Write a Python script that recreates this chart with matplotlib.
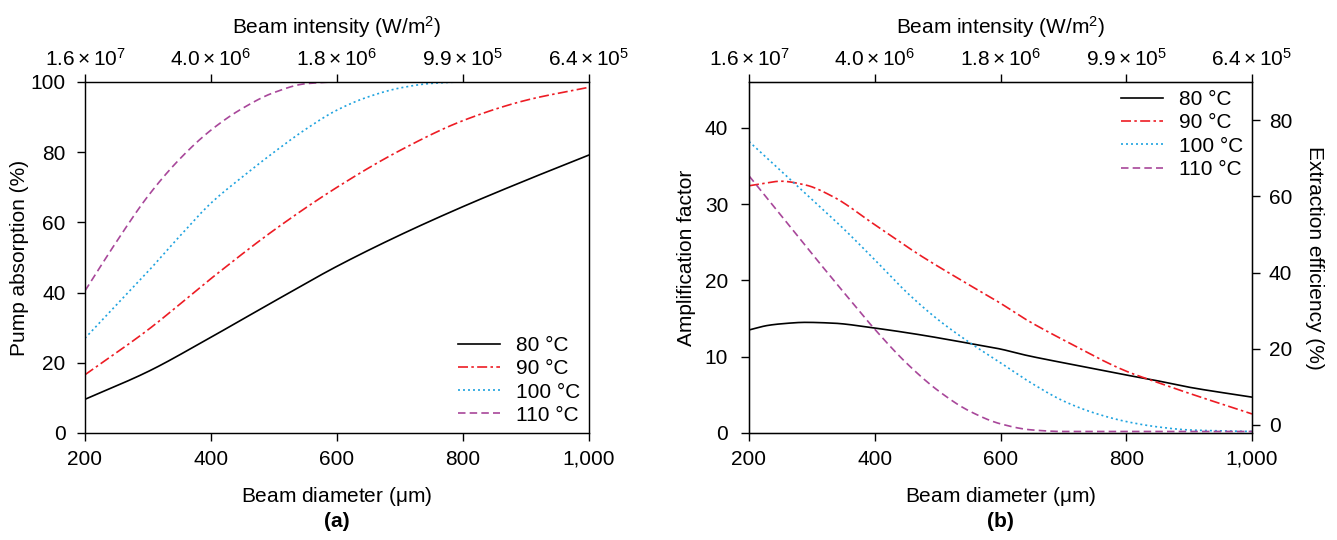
import numpy as np
import matplotlib
matplotlib.use('Agg')
import matplotlib.pyplot as plt

plt.rcParams['font.family'] = ['Liberation Sans', 'DejaVu Sans']
plt.rcParams['mathtext.fontset'] = 'custom'
plt.rcParams['mathtext.rm'] = 'Liberation Sans'
plt.rcParams['mathtext.it'] = 'Liberation Sans'
plt.rcParams['mathtext.default'] = 'regular'
plt.rcParams['font.size'] = 15

# panel (a): pump absorption (%)
d_a = [200, 300, 400, 500, 600, 700, 800, 900, 1000]
abs80 = [9.6, 17.5, 27.3, 37.5, 47.5, 56.4, 64.5, 72.0, 79.2]
abs90 = [16.6, 29.4, 44.0, 57.8, 70.0, 80.5, 89.0, 94.8, 98.5]
d_a100 = [200, 250, 300, 350, 400, 450, 500, 550, 600, 650, 700, 750, 800, 1000]
abs100 = [27.0, 36.5, 46.0, 56.0, 65.5, 73.0, 80.0, 86.5, 92.0, 95.8, 98.3, 99.6, 100, 100]
d_a110 = [200, 250, 300, 350, 400, 450, 500, 550, 600, 1000]
abs110 = [40.5, 54.5, 67.5, 78.0, 86.3, 92.5, 97.0, 99.5, 100, 100]

# panel (b): amplification factor
d_b = [200, 230, 250, 290, 333, 400, 470, 540, 600, 640, 700, 800, 840, 900, 1000]
amp80 = [13.5, 14.1, 14.3, 14.5, 14.4, 13.75, 12.9, 11.9, 11.0, 10.2, 9.2, 7.6, 7.0, 6.0, 4.7]
amp90 = [32.4, 32.8, 33.0, 32.5, 31.0, 27.3, 23.4, 19.9, 17.0, 14.9, 12.2, 8.1, 6.9, 5.2, 2.5]
d_b2 = [200, 250, 300, 350, 400, 450, 500, 550, 600, 650, 700, 750, 800, 850, 900, 1000]
amp100 = [38.2, 34.4, 30.6, 26.8, 22.7, 18.5, 14.9, 11.9, 9.2, 6.5, 4.2, 2.6, 1.5, 0.8, 0.4, 0.2]
d_b3 = [200, 250, 300, 350, 400, 450, 500, 550, 600, 650, 700, 1000]
amp110 = [33.7, 28.6, 23.5, 18.5, 13.6, 9.2, 5.6, 2.9, 1.2, 0.4, 0.2, 0.2]

top_ticks = [200, 400, 600, 800, 1000]
top_labels = [r'$1.6\times10^{7}$', r'$4.0\times10^{6}$', r'$1.8\times10^{6}$',
              r'$9.9\times10^{5}$', r'$6.4\times10^{5}$']
bot_labels = ['200', '400', '600', '800', '1,000']

red = '#ed1c24'
blue = '#1fa3df'
purple = '#a8479a'
lw = 1.2
ls90 = (0, (6, 2, 1.5, 2))
ls100 = (0, (1.2, 1.8))
ls110 = (0, (4.5, 2.5))


def pchip(x, y, n=400):
    x = np.asarray(x, float); y = np.asarray(y, float)
    h = np.diff(x); delta = np.diff(y) / h
    m = np.zeros_like(y)
    for k in range(1, len(x) - 1):
        if delta[k - 1] * delta[k] > 0:
            w1 = 2 * h[k] + h[k - 1]; w2 = h[k] + 2 * h[k - 1]
            m[k] = (w1 + w2) / (w1 / delta[k - 1] + w2 / delta[k])
    m[0] = delta[0]; m[-1] = delta[-1]
    xs = np.linspace(x[0], x[-1], n)
    idx = np.clip(np.searchsorted(x, xs) - 1, 0, len(x) - 2)
    t = (xs - x[idx]) / h[idx]
    h00 = 2 * t**3 - 3 * t**2 + 1; h10 = t**3 - 2 * t**2 + t
    h01 = -2 * t**3 + 3 * t**2; h11 = t**3 - t**2
    ys = h00 * y[idx] + h10 * h[idx] * m[idx] + h01 * y[idx + 1] + h11 * h[idx] * m[idx + 1]
    return xs, ys


def style_axes(ax, ypad):
    ax.set_xlim(200, 1000)
    ax.set_xticks(top_ticks)
    ax.set_xticklabels(bot_labels)
    ax.tick_params(axis='x', direction='out', length=6, width=1, pad=6)
    ax.tick_params(axis='y', direction='out', length=6, width=1, pad=ypad)
    for s in ax.spines.values():
        s.set_linewidth(1.0)
        s.set_color('#222222')
    ax.set_xlabel('Beam diameter ($\\mu$m)', labelpad=12)
    top = ax.twiny()
    top.set_xlim(200, 1000)
    top.set_xticks(top_ticks)
    top.set_xticklabels(top_labels)
    top.tick_params(direction='out', length=6, width=1, pad=3)
    top.set_xlabel('Beam intensity (W/m$^{2}$)', labelpad=10)
    return top


leg_kw = dict(frameon=False, fontsize=15, handlelength=2.0, labelspacing=0.2,
              borderaxespad=0.0, handletextpad=0.8)

fig = plt.figure(figsize=(13.37, 5.40), dpi=100)

# ---- (a)
ax1 = fig.add_axes([85 / 1337, 107 / 540, 504 / 1337, 351 / 540])
ax1.plot(*pchip(d_a, abs80), color='black', lw=lw, label='80 °C')
ax1.plot(*pchip(d_a, abs90), color=red, lw=lw, ls=ls90, label='90 °C')
ax1.plot(*pchip(d_a100, abs100), color=blue, lw=lw, ls=ls100, label='100 °C')
ax1.plot(*pchip(d_a110, abs110), color=purple, lw=lw, ls=ls110, label='110 °C')
ax1.set_ylim(0, 100)
ax1.set_yticks([0, 20, 40, 60, 80, 100])
ax1.set_ylabel('Pump absorption (%)', labelpad=1)
style_axes(ax1, 8)
ax1.legend(loc='lower right', bbox_to_anchor=(1.0, 0.0), **leg_kw)
ax1.text(0.5, -0.225, '(a)', transform=ax1.transAxes, ha='center', va='top',
         fontsize=15, fontweight='bold')

# ---- (b)
ax2 = fig.add_axes([749 / 1337, 107 / 540, 503 / 1337, 351 / 540])
ax2.plot(*pchip(d_b, amp80), color='black', lw=lw, label='80 °C')
ax2.plot(*pchip(d_b, amp90), color=red, lw=lw, ls=ls90, label='90 °C')
ax2.plot(*pchip(d_b2, amp100), color=blue, lw=lw, ls=ls100, label='100 °C')
ax2.plot(*pchip(d_b3, amp110), color=purple, lw=lw, ls=ls110, label='110 °C')
ax2.set_ylim(0, 46)
ax2.set_yticks([0, 10, 20, 30, 40])
ax2.set_ylabel('Amplification factor', labelpad=6)
top2 = style_axes(ax2, 9)
ax2.legend(loc='upper right', bbox_to_anchor=(1.0, 1.0), **leg_kw)
ax2.text(0.5, -0.225, '(b)', transform=ax2.transAxes, ha='center', va='top',
         fontsize=15, fontweight='bold')

right = ax2.twinx()
right.set_ylim(-2.1, 90)
right.set_yticks([0, 20, 40, 60, 80])
right.tick_params(direction='out', length=6, width=1, pad=6)
right.set_ylabel('Extraction efficiency (%)', rotation=270, labelpad=23)

fig.savefig('out.png', dpi=100)
